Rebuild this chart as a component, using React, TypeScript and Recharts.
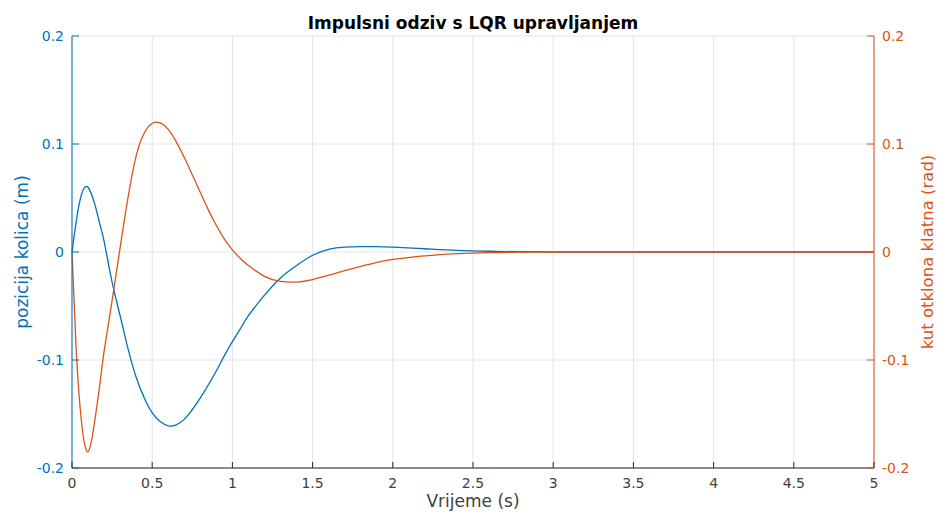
import { CartesianGrid, Line, LineChart, XAxis, YAxis } from "recharts";

// time samples (s)
const time = [
  0, 0.025, 0.05, 0.075, 0.1, 0.125, 0.15, 0.175, 0.2, 0.25, 0.3, 0.35, 0.4,
  0.45, 0.5, 0.55, 0.6, 0.65, 0.7, 0.75, 0.8, 0.85, 0.9, 0.95, 1.0, 1.05, 1.1,
  1.2, 1.3, 1.4, 1.5, 1.6, 1.7, 1.8, 1.9, 2.0, 2.2, 2.4, 2.6, 2.8, 3.0, 3.5,
  4.0, 4.5, 5.0,
];

// pozicija kolica (m)
const position = [
  0, 0.027, 0.048, 0.059, 0.06, 0.052, 0.04, 0.025, 0.01, -0.028, -0.059,
  -0.09, -0.116, -0.135, -0.149, -0.157, -0.161, -0.16, -0.155, -0.146,
  -0.135, -0.123, -0.11, -0.096, -0.083, -0.071, -0.059, -0.04, -0.024,
  -0.0125, -0.003, 0.0025, 0.0045, 0.005, 0.005, 0.0045, 0.003, 0.0015,
  0.0007, 0.0003, 0.0001, 0, 0, 0, 0,
];

// kut otklona klatna (rad)
const angle = [
  0, -0.087, -0.143, -0.175, -0.185, -0.172, -0.148, -0.121, -0.092, -0.045,
  0.004, 0.051, 0.089, 0.11, 0.119, 0.1195, 0.1135, 0.102, 0.0875, 0.0715,
  0.055, 0.039, 0.0245, 0.012, 0.002, -0.006, -0.0125, -0.0225, -0.0272,
  -0.0278, -0.0255, -0.0215, -0.0172, -0.0132, -0.0097, -0.0069, -0.0035,
  -0.0015, -0.0006, -0.0002, 0, 0, 0, 0, 0,
];

const timeTicks = [0, 0.5, 1, 1.5, 2, 2.5, 3, 3.5, 4, 4.5, 5];
const valueTicks = [-0.2, -0.1, 0, 0.1, 0.2];

const data = time.map((t, i) => ({ t, position: position[i], angle: angle[i] }));

const BLUE = "#0072BD";
const ORANGE = "#D95319";
const INK = "#262626";
const FONT = "'DejaVu Sans', sans-serif";

function BottomTick({ x, y, payload }: any) {
  return (
    <g>
      <line x1={x} x2={x} y1={y} y2={y - 6} stroke={INK} />
      <text x={x} y={y + 20} textAnchor="middle" fill="#404040" fontSize={14} fontFamily={FONT}>
        {payload.value}
      </text>
    </g>
  );
}

function TopTick({ x, y }: any) {
  return <line x1={x} x2={x} y1={y} y2={y + 6} stroke={INK} />;
}

function LeftTick({ x, y, payload }: any) {
  return (
    <g>
      <line x1={x} x2={x + 7} y1={y} y2={y} stroke={BLUE} />
      <text x={x - 8} y={y + 5} textAnchor="end" fill={BLUE} fontSize={14} fontFamily={FONT}>
        {payload.value}
      </text>
    </g>
  );
}

function RightTick({ x, y, payload }: any) {
  return (
    <g>
      <line x1={x} x2={x - 7} y1={y} y2={y} stroke={ORANGE} />
      <text x={x + 8} y={y + 5} textAnchor="start" fill={ORANGE} fontSize={14} fontFamily={FONT}>
        {payload.value}
      </text>
    </g>
  );
}

export default function App() {
  return (
    <div style={{ position: "absolute", left: 0, top: 0, width: 937, height: 514, background: "#fff" }}>
      <LineChart width={937} height={514} data={data} margin={{ top: 36, right: 0, bottom: 0, left: 0 }}>
        <CartesianGrid stroke="#e4e4e4" />
        <XAxis
          dataKey="t"
          type="number"
          domain={[0, 5]}
          ticks={timeTicks}
          height={46}
          tickSize={0}
          tickMargin={0}
          tickLine={false}
          axisLine={{ stroke: INK }}
          tick={<BottomTick />}
          interval={0}
          label={{
            content: ({ viewBox }: any) => (
              <text
                x={viewBox.x + viewBox.width / 2}
                y={viewBox.y + 39}
                textAnchor="middle"
                fill="#404040"
                fontSize={17}
                fontFamily={FONT}
              >
                Vrijeme (s)
              </text>
            ),
          }}
        />
        <XAxis
          xAxisId="top"
          orientation="top"
          dataKey="t"
          type="number"
          domain={[0, 5]}
          ticks={timeTicks}
          height={0}
          tickSize={0}
          tickMargin={0}
          tickLine={false}
          axisLine={{ stroke: INK }}
          tick={<TopTick />}
          interval={0}
        />
        <YAxis
          type="number"
          domain={[-0.2, 0.2]}
          ticks={valueTicks}
          width={72}
          tickSize={0}
          tickMargin={0}
          tickLine={false}
          axisLine={{ stroke: BLUE }}
          tick={<LeftTick />}
          interval={0}
          label={{
            content: ({ viewBox }: any) => {
              const cx = viewBox.x + 28;
              const cy = viewBox.y + viewBox.height / 2;
              return (
                <text
                  x={cx}
                  y={cy}
                  transform={`rotate(-90 ${cx} ${cy})`}
                  textAnchor="middle"
                  fill={BLUE}
                  fontSize={17}
                  fontFamily={FONT}
                >
                  pozicija kolica (m)
                </text>
              );
            },
          }}
        />
        <YAxis
          yAxisId="right"
          orientation="right"
          type="number"
          domain={[-0.2, 0.2]}
          ticks={valueTicks}
          width={63}
          tickSize={0}
          tickMargin={0}
          tickLine={false}
          axisLine={{ stroke: ORANGE }}
          tick={<RightTick />}
          interval={0}
          label={{
            content: ({ viewBox }: any) => {
              const cx = viewBox.x + 59;
              const cy = viewBox.y + viewBox.height / 2;
              return (
                <text
                  x={cx}
                  y={cy}
                  transform={`rotate(-90 ${cx} ${cy})`}
                  textAnchor="middle"
                  fill={ORANGE}
                  fontSize={16.5}
                  fontFamily={FONT}
                >
                  kut otklona klatna (rad)
                </text>
              );
            },
          }}
        />
        <Line
          dataKey="position"
          type="natural"
          stroke={BLUE}
          strokeWidth={1.3}
          dot={false}
          isAnimationActive={false}
        />
        <Line
          dataKey="angle"
          yAxisId="right"
          type="natural"
          stroke={ORANGE}
          strokeWidth={1.3}
          dot={false}
          isAnimationActive={false}
        />
      </LineChart>
      <svg
        width={937}
        height={40}
        style={{ position: "absolute", left: 0, top: 0, pointerEvents: "none" }}
      >
        <text x={473} y={29} textAnchor="middle" fill="#000" fontSize={17} fontWeight="bold" fontFamily={FONT}>
          Impulsni odziv s LQR upravljanjem
        </text>
      </svg>
    </div>
  );
}
